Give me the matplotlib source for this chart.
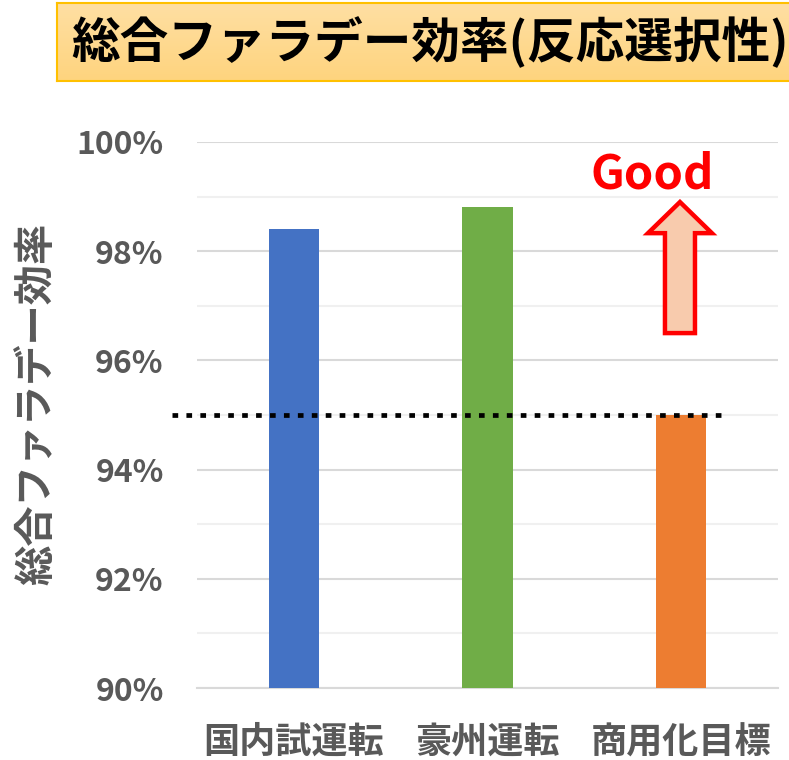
import numpy as np
import matplotlib
matplotlib.use("Agg")
import matplotlib.pyplot as plt
from matplotlib.patches import FancyArrow

plt.rcParams['font.family'] = ['Noto Sans CJK JP', 'DejaVu Sans']

# データ
categories = ['国内試運転', '豪州運転', '商用化目標']
values = [98.4, 98.8, 95.0]
colors = ['#4472C4', '#70AD47', '#ED7D31']
target = 95.0
yticks = [90, 92, 94, 96, 98, 100]
ytick_labels = ['90%', '92%', '94%', '96%', '98%', '100%']
title = '総合ファラデー効率(反応選択性)'
ylabel = '総合ファラデー効率'

fig = plt.figure(figsize=(7.89, 7.6), dpi=100)
ax = fig.add_axes([0.2497, 0.0947, 0.7363, 0.7185])

x = np.arange(len(categories))
ax.bar(x, values, width=0.26, color=colors, zorder=3)

ax.set_ylim(90, 100)
ax.set_xlim(-0.5, 2.5)
ax.set_yticks(yticks)
ax.set_yticklabels(ytick_labels)
ax.set_yticks(np.arange(91, 100, 2), minor=True)
ax.grid(axis='y', which='major', color='#D9D9D9', linewidth=1.5, zorder=0)
ax.grid(axis='y', which='minor', color='#F0F0F0', linewidth=1.5, zorder=0)
ax.tick_params(axis='y', which='both', length=0, pad=24, labelsize=23,
               labelcolor='#595959')
ax.tick_params(axis='x', length=0, pad=26, labelsize=26, labelcolor='#595959')
ax.set_xticks(x)
ax.set_xticklabels(categories)
for lab in ax.get_xticklabels() + ax.get_yticklabels():
    lab.set_fontweight('bold')
for s in ['top', 'right', 'left']:
    ax.spines[s].set_visible(False)
ax.spines['bottom'].set_color('#D9D9D9')
ax.spines['bottom'].set_linewidth(1.5)

ax.set_ylabel(ylabel, fontsize=29, fontweight='bold', color='#595959')
ax.yaxis.set_label_coords(-0.24, 0.52)

# 目標ライン(点線)
ax.plot([-0.63, 2.236], [target, target], color='black', linewidth=3.4,
        dashes=(1.2, 1.75), clip_on=False, zorder=4)

# Good 矢印
arrow = FancyArrow(1.994, 96.5, 0, 2.4, width=0.155, head_width=0.33,
                   head_length=0.57, length_includes_head=True,
                   facecolor='#F8CBAD', edgecolor='#FF0000', linewidth=3.2, zorder=5)
ax.add_patch(arrow)
ax.text(1.85, 99.4, 'Good', color='#FF0000', fontsize=34, fontweight='bold',
        ha='center', va='center', zorder=6)

# タイトルボックス(グラデーション)
tax = fig.add_axes([57 / 789, 1 - 81 / 760, 1 - 57 / 789 + 0.01, 78 / 760])
grad = np.linspace(0, 1, 100).reshape(-1, 1)
cmap = matplotlib.colors.LinearSegmentedColormap.from_list('g', ['#FEDFA3', '#FFD47E'])
tax.imshow(grad, aspect='auto', cmap=cmap, extent=[0, 1, 0, 1], origin='upper')
tax.set_xlim(0, 1)
tax.set_ylim(0, 1)
tax.set_xticks([])
tax.set_yticks([])
for s in tax.spines.values():
    s.set_color('#FFC000')
    s.set_linewidth(1.5)
fig.text(430 / 789, 1 - 42 / 760, title, fontsize=35, fontweight='bold',
         ha='center', va='center', color='black')

fig.savefig('out.png', dpi=100)
